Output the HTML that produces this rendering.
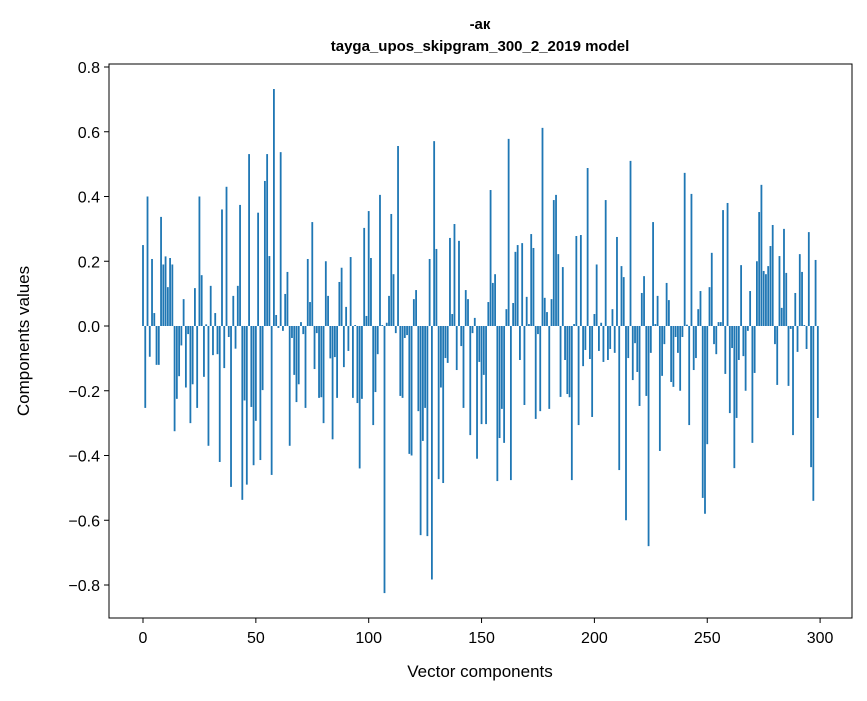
<!DOCTYPE html>
<html><head><meta charset="utf-8"><style>
body{margin:0;background:#fff;}
svg text{font-family:"Liberation Sans","DejaVu Sans",sans-serif;fill:#000;}
</style></head><body>
<svg id="chart" width="867" height="696" xmlns="http://www.w3.org/2000/svg">
<rect width="867" height="696" fill="#fff"/>
<text x="480" y="29" text-anchor="middle" font-size="15" font-weight="bold">-ак</text>
<text x="480" y="51" text-anchor="middle" font-size="15" font-weight="bold">tayga_upos_skipgram_300_2_2019 model</text>
<g id="bars"></g>
<g id="axes"></g>
<rect x="109" y="64" width="743" height="554" fill="none" stroke="#000" stroke-width="1"/>
<text transform="translate(29,341) rotate(-90)" text-anchor="middle" font-size="17">Components values</text>
<text x="480" y="677" text-anchor="middle" font-size="17">Vector components</text>
</svg>
<script>
const values = [
0.25,-0.253,0.40,-0.095,0.207,0.04,-0.12,-0.12,0.337,0.19,
0.215,0.12,0.21,0.19,-0.325,-0.225,-0.155,-0.06,0.083,-0.19,
-0.025,-0.30,-0.18,0.117,-0.253,0.40,0.157,-0.157,0.005,-0.37,
0.124,-0.09,0.04,-0.087,-0.42,0.36,-0.13,0.43,-0.034,-0.497,
0.093,-0.07,0.124,0.374,-0.537,-0.23,-0.49,0.531,-0.25,-0.43,
-0.293,0.35,-0.414,-0.198,0.448,0.531,0.216,-0.46,0.732,0.034,
-0.006,0.537,-0.015,0.099,0.167,-0.37,-0.037,-0.151,-0.235,-0.18,
0.012,-0.025,-0.253,0.207,0.074,0.321,-0.133,-0.022,-0.222,-0.22,
-0.30,0.2,0.093,-0.10,-0.35,-0.096,-0.222,0.136,0.18,-0.127,
0.059,-0.077,0.213,-0.222,0.003,-0.238,-0.44,-0.225,0.303,0.031,
0.355,0.21,-0.306,-0.204,-0.087,0.405,0.003,-0.825,0.01,0.093,
0.346,0.16,-0.022,0.556,-0.216,-0.222,-0.037,-0.028,-0.395,-0.40,
0.083,0.111,-0.263,-0.646,-0.355,-0.253,-0.649,0.207,-0.783,0.571,
0.238,-0.473,-0.19,-0.485,-0.099,-0.114,0.272,0.037,0.315,-0.136,
0.263,-0.062,-0.253,0.111,0.083,-0.337,-0.022,0.025,-0.41,-0.111,
-0.303,-0.151,-0.303,0.074,0.42,0.133,0.16,-0.479,-0.346,-0.256,
-0.361,0.052,0.578,-0.476,0.071,0.229,0.25,-0.105,0.256,-0.244,
0.09,0.006,0.284,0.241,-0.287,-0.025,-0.263,0.612,0.087,0.043,
-0.256,0.083,0.389,0.405,0.222,-0.219,0.182,-0.105,-0.21,-0.22,
-0.476,0.006,0.278,-0.306,0.281,-0.124,-0.074,0.488,-0.102,-0.281,
0.037,0.19,-0.077,0.01,-0.111,0.389,-0.105,-0.071,0.052,-0.083,
0.275,-0.445,0.185,0.151,-0.6,-0.099,0.51,-0.167,-0.053,-0.142,
-0.247,0.102,0.154,-0.216,-0.68,-0.083,0.321,0.006,0.093,-0.386,
-0.154,-0.056,0.133,0.08,-0.173,-0.188,-0.034,-0.083,-0.2,-0.034,
0.473,0.004,-0.306,0.408,-0.136,-0.099,0.052,0.108,-0.531,-0.58,
-0.365,0.12,0.226,-0.056,-0.087,0.012,0.012,0.358,-0.148,0.38,
-0.269,-0.068,-0.439,-0.284,-0.105,0.188,-0.093,-0.2,-0.015,0.108,
-0.361,-0.145,0.2,0.352,0.436,0.17,0.16,0.185,0.247,0.312,
-0.056,-0.182,0.216,0.056,0.3,0.164,-0.185,-0.009,-0.337,0.102,
-0.08,0.222,0.167,0.003,-0.071,0.29,-0.436,-0.54,0.204,-0.284
];
const xTicks = [0,50,100,150,200,250,300];
const yTicks = [-0.8,-0.6,-0.4,-0.2,0.0,0.2,0.4,0.6,0.8];
const NS='http://www.w3.org/2000/svg';
function xs(v){return 143 + (820.1-143)/300*v;}
function ys(v){return 326 - 323.75*v;}
const bars=document.getElementById('bars');
values.forEach((v,i)=>{
  const r=document.createElementNS(NS,'rect');
  
  
  const w=(xs(0.8)-xs(0));
  r.setAttribute('x',xs(i)-w/2);
  r.setAttribute('width',w);
  r.setAttribute('y',Math.min(ys(v),ys(0)));
  r.setAttribute('height',Math.abs(ys(v)-ys(0)));
  r.setAttribute('fill','#1f77b4');
  bars.appendChild(r);
});
const axes=document.getElementById('axes');
xTicks.forEach(t=>{
  const l=document.createElementNS(NS,'line');
  
  
  l.setAttribute('x1',xs(t));l.setAttribute('x2',xs(t));
  l.setAttribute('y1',618);l.setAttribute('y2',623);
  l.setAttribute('stroke','#000');
  axes.appendChild(l);
  const tx=document.createElementNS(NS,'text');
  
  
  tx.setAttribute('x',xs(t));tx.setAttribute('y',643);
  tx.setAttribute('text-anchor','middle');tx.setAttribute('font-size','16');
  tx.textContent=String(t);
  axes.appendChild(tx);
});
yTicks.forEach(t=>{
  const l=document.createElementNS(NS,'line');
  
  
  l.setAttribute('x1',104);l.setAttribute('x2',109);
  l.setAttribute('y1',ys(t));l.setAttribute('y2',ys(t));
  l.setAttribute('stroke','#000');
  axes.appendChild(l);
  const tx=document.createElementNS(NS,'text');
  
  
  tx.setAttribute('x',100);tx.setAttribute('y',ys(t)+6);
  tx.setAttribute('text-anchor','end');tx.setAttribute('font-size','16');
  tx.textContent=(t<0?'\u2212':'')+Math.abs(t).toFixed(1);
  axes.appendChild(tx);
});
</script>
</body></html>
